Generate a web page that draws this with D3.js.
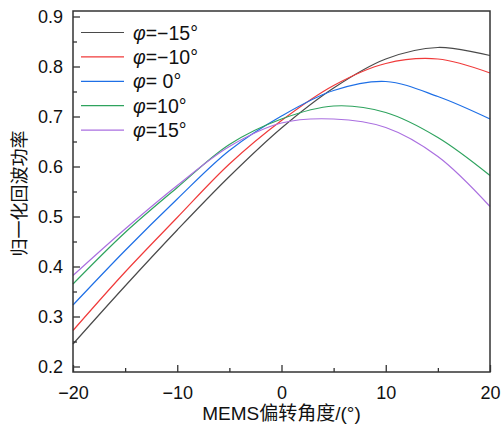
<!DOCTYPE html>
<html lang="zh">
<head>
<meta charset="UTF-8">
<title>归一化回波功率</title>
<script src="https://d3js.org/d3.v7.min.js"></script>
<style>
  body { margin: 0; background: #fff; }
  svg { display: block; }
  text { font-family: 'Liberation Sans', Arial, 'Noto Sans CJK SC', sans-serif; fill: #111; }
</style>
</head>
<body>
<svg width="501" height="427"></svg>
<script>
// MEMS deflection angle (deg)
const angles = [-20, -15, -10, -5, 0, 5, 10, 15, 20];

// normalised echo power per phi
const phiM15 = [0.245, 0.361, 0.473, 0.580, 0.677, 0.757, 0.815, 0.838, 0.822];
const phiM10 = [0.272, 0.389, 0.498, 0.605, 0.692, 0.762, 0.806, 0.815, 0.787];
const phi0   = [0.323, 0.432, 0.535, 0.632, 0.701, 0.752, 0.770, 0.740, 0.695];
const phi10  = [0.365, 0.468, 0.558, 0.644, 0.695, 0.721, 0.708, 0.658, 0.582];
const phi15  = [0.382, 0.475, 0.562, 0.640, 0.687, 0.695, 0.678, 0.620, 0.520];

const seriesNames = ["φ=−15°", "φ=−10°", "φ= 0°", "φ=10°", "φ=15°"];
const seriesColors = ["#4a4a4a", "#f03a3a", "#1e6fe6", "#2ea35e", "#aa6fe0"];
const seriesValues = [phiM15, phiM10, phi0, phi10, phi15];

const xTicks = [-20, -10, 0, 10, 20];
const yTicks = [0.2, 0.3, 0.4, 0.5, 0.6, 0.7, 0.8, 0.9];

const svg = d3.select("svg");
const margin = {top: 11, right: 11, bottom: 55, left: 73};
const width = 501 - margin.left - margin.right;
const height = 427 - margin.top - margin.bottom;
const g = svg.append("g").attr("transform", `translate(${margin.left},${margin.top})`);

const x = d3.scaleLinear().domain([-20, 20]).range([0, width]);
const y = d3.scaleLinear().domain([0.189, 0.911]).range([height, 0]);

const line = d3.line()
  .curve(d3.curveCatmullRom.alpha(0.5))
  .x(d => x(d[0]))
  .y(d => y(d[1]));

// curves
seriesValues.forEach((vals, i) => {
  g.append("path")
    .datum(angles.map((a, j) => [a, vals[j]]))
    .attr("fill", "none")
    .attr("stroke", seriesColors[i])
    .attr("stroke-width", 1.2)
    .attr("d", line);
});

// axes with inward ticks
const axisColor = "#333";
g.append("g").attr("transform", `translate(0,${height})`)
  .call(d3.axisBottom(x).tickValues(xTicks).tickSizeInner(-7).tickSizeOuter(0)
    .tickPadding(14).tickFormat(d => d < 0 ? "−" + Math.abs(d) : d));
g.append("g").attr("transform", `translate(0,${height})`)
  .call(d3.axisBottom(x).tickValues([-15, -5, 5, 15]).tickSizeInner(-4).tickSizeOuter(0).tickFormat(""));

g.append("g")
  .call(d3.axisLeft(y).tickValues(yTicks).tickSizeInner(-7).tickSizeOuter(0)
    .tickPadding(10).tickFormat(d3.format(".1f")));
g.append("g")
  .call(d3.axisLeft(y).tickValues([0.25, 0.35, 0.45, 0.55, 0.65, 0.75, 0.85]).tickSizeInner(-4).tickSizeOuter(0).tickFormat(""));

g.selectAll(".tick text").attr("font-size", 18).attr("fill", "#111")
  .style("font-family", "'Liberation Sans', Arial, sans-serif");
g.selectAll(".tick line").attr("stroke", axisColor).attr("stroke-width", 1.3);
g.selectAll(".domain").remove();

// frame
g.append("rect")
  .attr("width", width).attr("height", height)
  .attr("fill", "none").attr("stroke", axisColor).attr("stroke-width", 1.5);

// legend
const legend = g.append("g").attr("transform", "translate(8,21.5)");
seriesNames.forEach((name, i) => {
  const row = legend.append("g").attr("transform", `translate(0,${i * 24.4})`);
  row.append("line").attr("x1", 0).attr("x2", 43)
    .attr("stroke", seriesColors[i]).attr("stroke-width", 1.2);
  const t = row.append("text").attr("x", 52).attr("y", 7)
    .attr("font-size", 19.5).style("white-space", "pre");
  t.append("tspan").attr("font-style", "italic").text("φ");
  t.append("tspan").text(name.slice(1));
});

// axis titles
svg.append("text")
  .attr("x", margin.left + width / 2).attr("y", 420)
  .attr("text-anchor", "middle").attr("font-size", 19)
  .text("MEMS偏转角度/(°)");

svg.append("text")
  .attr("transform", `translate(26,${margin.top + height / 2 + 2}) rotate(-90)`)
  .attr("text-anchor", "middle").attr("font-size", 18).attr("fill", "#333")
  .text("归一化回波功率");
</script>
</body>
</html>
